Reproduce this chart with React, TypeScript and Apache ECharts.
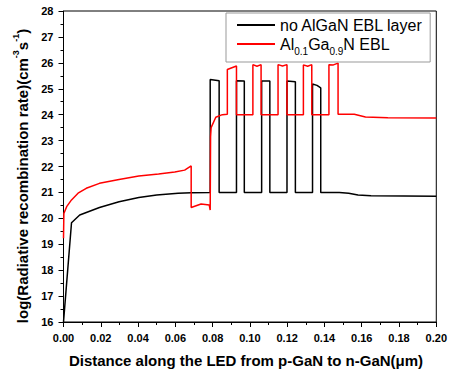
import React, { useEffect, useRef } from "react";
import * as echarts from "echarts";

const FONT = "'Liberation Sans', Arial, Helvetica, sans-serif";

// Distance along the LED (µm)
const noEblX = [
  0, 0.0043, 0.0087, 0.0193, 0.0298, 0.0404, 0.05, 0.0615, 0.0685, 0.0787,
  0.0787, 0.0835, 0.0835, 0.0928, 0.0928, 0.097, 0.097, 0.1063, 0.1063, 0.1107,
  0.1107, 0.1199, 0.1199, 0.1244, 0.1244, 0.1336, 0.1336, 0.136, 0.138, 0.138,
  0.148, 0.153, 0.158, 0.165, 0.2,
];
// log(Radiative recombination rate)
const noEblY = [
  16, 19.83, 20.13, 20.42, 20.64, 20.8, 20.9, 20.97, 20.99, 21,
  25.36, 25.31, 21, 21, 25.31, 25.3, 21, 21, 25.3, 25.3,
  21, 21, 25.3, 25.27, 21, 21, 25.18, 25.13, 25.03, 21,
  21, 20.97, 20.9, 20.87, 20.85,
];

const eblX = [
  0, 0.0002, 0.0017, 0.0043, 0.0078, 0.0122, 0.0193, 0.0298, 0.0404, 0.051,
  0.0597, 0.065, 0.0685, 0.0685, 0.0738, 0.0782, 0.0787, 0.0789, 0.0792, 0.0817,
  0.0852, 0.0879, 0.0879, 0.0928, 0.0928, 0.1016, 0.1016, 0.1038, 0.106, 0.106,
  0.1151, 0.1151, 0.1175, 0.1199, 0.1199, 0.1287, 0.1287, 0.131, 0.1332, 0.1332,
  0.1424, 0.1424, 0.1448, 0.1473, 0.1473, 0.156, 0.162, 0.174, 0.2,
];
const eblY = [
  19.23, 20.19, 20.45, 20.71, 20.97, 21.16, 21.35, 21.5, 21.63, 21.71,
  21.79, 21.86, 22.02, 20.42, 20.55, 20.51, 20.32, 23.15, 23.5, 23.9,
  24.0, 24.02, 25.74, 25.88, 24.0, 24.0, 25.93, 25.87, 25.93, 24.0,
  24.0, 25.93, 25.88, 25.93, 24.0, 24.0, 25.92, 25.87, 25.93, 24.0,
  24.0, 25.93, 25.92, 25.99, 24.02, 24.02, 23.91, 23.88, 23.87,
];

const seriesNames = ["no AlGaN EBL layer", "Al0.1Ga0.9N EBL"];
const xTitle = "Distance along the LED from p-GaN to n-GaN(\u03bcm)";
const yTitle = "log(Radiative recombination rate)(cm{sup|-3}s{sup|-1})";

function zip(xs: number[], ys: number[]) {
  return xs.map((x, i) => [x, ys[i]]);
}

export default function App() {
  const ref = useRef<HTMLDivElement>(null);
  useEffect(() => {
    if (!ref.current) return;
    const chart = echarts.init(ref.current, null, { renderer: "svg" });
    const axisLabel = {
      color: "#000",
      fontFamily: FONT,
      fontWeight: "bold" as const,
      fontSize: 11,
      margin: 10,
    };
    chart.setOption({
      animation: false,
      backgroundColor: "#fff",
      grid: {
        left: 63.5,
        right: 7.5,
        top: 11,
        bottom: 50,
        show: true,
        borderColor: "#000",
        borderWidth: 1,
        containLabel: false,
      },
      legend: {
        orient: "vertical",
        left: 226,
        top: 13,
        itemWidth: 38,
        itemHeight: 2,
        icon: "rect",
        itemGap: 3,
        padding: [4, 7, 6, 11],
        borderColor: "#999",
        borderWidth: 1,
        backgroundColor: "#fff",
        data: seriesNames,
        textStyle: {
          color: "#000",
          fontFamily: FONT,
          fontSize: 16,
          rich: {
            n: { fontFamily: FONT, fontSize: 16, color: "#000", lineHeight: 24 },
            sub: {
              fontFamily: FONT,
              fontSize: 10,
              color: "#000",
              verticalAlign: "bottom",
            },
          },
        },
        formatter: (name: string) =>
          name === seriesNames[1]
            ? "{n|Al}{sub|0.1}{n|Ga}{sub|0.9}{n|N EBL}"
            : name,
      },
      xAxis: {
        type: "value",
        min: 0,
        max: 0.2,
        interval: 0.02,
        axisLine: { lineStyle: { color: "#000", width: 1 } },
        axisTick: { show: true, length: 5, lineStyle: { color: "#000" } },
        minorTick: { show: true, splitNumber: 2, length: 3, lineStyle: { color: "#000" } },
        splitLine: { show: false },
        axisLabel: { ...axisLabel, formatter: (v: number) => v.toFixed(2) },
      },
      yAxis: {
        type: "value",
        min: 16,
        max: 28,
        interval: 1,
        axisLine: { show: true, lineStyle: { color: "#000", width: 1 } },
        axisTick: { show: true, length: 5, lineStyle: { color: "#000" } },
        minorTick: { show: true, splitNumber: 2, length: 3, lineStyle: { color: "#000" } },
        splitLine: { show: false },
        axisLabel: { ...axisLabel },
      },
      graphic: [
        {
          type: "text",
          x: 246,
          y: 360,
          style: {
            text: xTitle,
            font: `bold 15px ${FONT}`,
            fill: "#000",
            align: "center",
            verticalAlign: "middle",
          },
        },
        {
          type: "text",
          x: 22,
          y: 176,
          rotation: Math.PI / 2,
          style: {
            text: yTitle,
            font: `bold 15px ${FONT}`,
            fill: "#000",
            align: "center",
            verticalAlign: "middle",
            lineHeight: 22,
            rich: {
              sup: {
                font: `bold 9px ${FONT}`,
                fill: "#000",
                verticalAlign: "top",
              },
            },
          },
        },
      ],
      series: [
        {
          name: seriesNames[0],
          type: "line",
          data: zip(noEblX, noEblY),
          showSymbol: false,
          symbol: "none",
          lineStyle: { color: "#000", width: 1.5 },
          itemStyle: { color: "#000" },
        },
        {
          name: seriesNames[1],
          type: "line",
          data: zip(eblX, eblY),
          showSymbol: false,
          symbol: "none",
          lineStyle: { color: "#ff0000", width: 1.5 },
          itemStyle: { color: "#ff0000" },
        },
      ],
    });
    return () => chart.dispose();
  }, []);
  return (
    <div
      ref={ref}
      style={{ position: "fixed", left: 0, top: 0, width: 450, height: 372 }}
    />
  );
}
